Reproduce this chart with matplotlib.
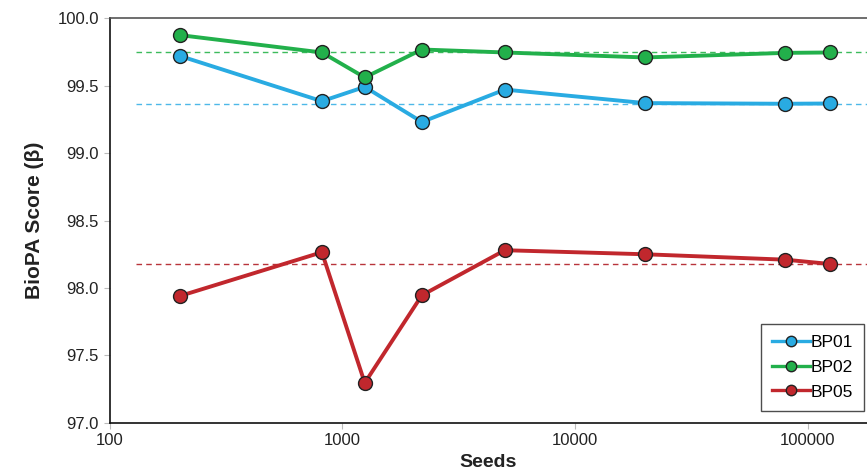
import numpy as np
import matplotlib.pyplot as plt

plt.rcParams['font.family'] = ['Liberation Sans', 'DejaVu Sans']

# 数据
seeds = [200, 818, 1250, 2200, 5000, 20000, 80000, 125000]
bp01 = [99.72, 99.384, 99.49, 99.23, 99.47, 99.37, 99.365, 99.367]
bp02 = [99.874, 99.745, 99.56, 99.767, 99.745, 99.708, 99.742, 99.745]
bp05 = [97.94, 98.265, 97.297, 97.946, 98.28, 98.25, 98.21, 98.178]
ref_levels = [99.364, 99.745, 98.178]

line_colors = ['#29ABE2', '#22B04B', '#C1272D']
dash_colors = ['#4DB8E8', '#3DBB5C', '#B8343B']
labels = ['BP01', 'BP02', 'BP05']

fig = plt.figure(figsize=(8.67, 4.75), dpi=100)
ax = fig.add_axes([0.1263, 0.1095, 0.8737, 0.8525])

xlim = (100, 180000)

# 参考虚线
for lvl, c in zip(ref_levels, dash_colors):
    ax.plot([130, xlim[1]], [lvl, lvl], linestyle=(0, (4, 3)), color=c,
            linewidth=1.0, zorder=1)

for ys, c, lab in zip([bp01, bp02, bp05], line_colors, labels):
    ax.plot(seeds, ys, '-o', color=c, linewidth=2.8, markersize=10,
            markerfacecolor=c, markeredgecolor='#222222', markeredgewidth=1.0,
            label=lab, zorder=3)

ax.set_xscale('log')
ax.set_xlim(*xlim)
ax.set_ylim(97.0, 100.0)
ax.set_xticks([100, 1000, 10000, 100000])
ax.set_xticklabels(['100', '1000', '10000', '100000'])
ax.xaxis.set_minor_locator(plt.NullLocator())
ax.set_yticks(np.arange(97.0, 100.01, 0.5))
ax.set_yticklabels([f'{v:.1f}' for v in np.arange(97.0, 100.01, 0.5)])

ax.tick_params(axis='both', labelsize=12, color='#BBBBBB', length=4,
               labelcolor='#222222')

ax.spines['right'].set_visible(False)
ax.spines['top'].set_color('#555555')
ax.spines['left'].set_color('#111111')
ax.spines['bottom'].set_color('#111111')
for s in ax.spines.values():
    s.set_linewidth(1.2)

ax.set_xlabel('Seeds', fontsize=14, fontweight='bold', color='#222222',
              labelpad=4)
ax.set_ylabel('BioPA Score (β)', fontsize=15, fontweight='bold',
              color='#222222', labelpad=10)

leg = ax.legend(loc='lower right', bbox_to_anchor=(0.996, 0.03),
                borderaxespad=0, fontsize=12.5, frameon=True, fancybox=False,
                edgecolor='#222222', handlelength=2.2, handletextpad=0.0,
                labelspacing=0.55, borderpad=0.65, markerscale=0.75)
leg.get_frame().set_linewidth(1.0)
# 让图例框左侧多留一些空白
fig.canvas.draw()
for ln in leg.get_lines():
    ln.set_linewidth(2.4)

fig.savefig('out.png', dpi=100)
